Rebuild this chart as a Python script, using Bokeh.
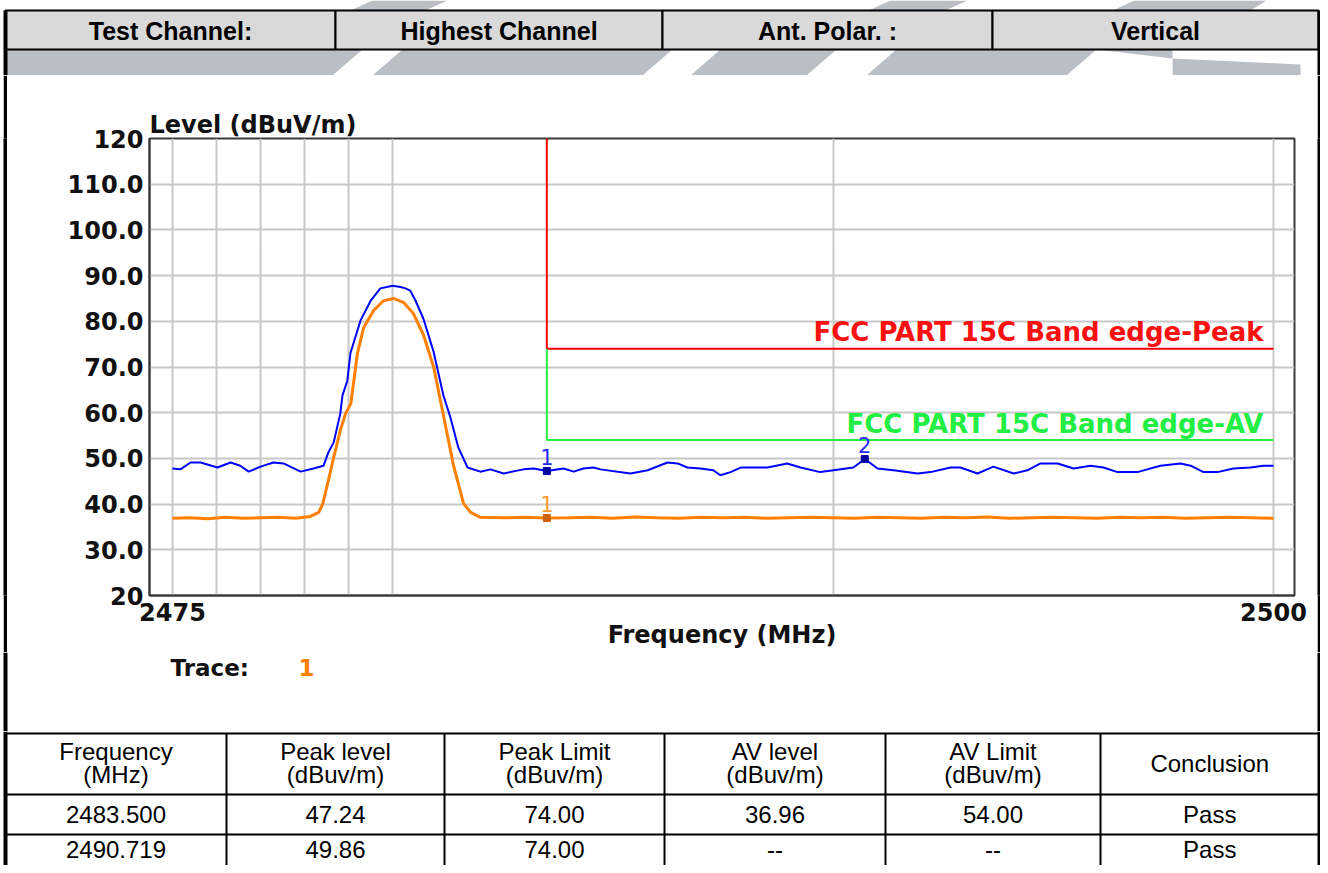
from bokeh.plotting import figure
from bokeh.layouts import column, row
from bokeh.models import Range1d, FixedTicker, Label
from bokeh.core.properties import value
from bokeh.embed import file_html
from bokeh.resources import INLINE

# ---------------- data ----------------
header_labels = ["Test Channel:", "Highest Channel", "Ant. Polar. :", "Vertical"]

freq_pk = [2475.00, 2475.18, 2475.41, 2475.64, 2476.02, 2476.32, 2476.54, 2476.73, 2477.00, 2477.29,
           2477.52, 2477.91, 2478.20, 2478.43, 2478.54, 2478.66, 2478.81, 2478.86, 2478.97, 2479.04,
           2479.27, 2479.50, 2479.72, 2480.00, 2480.18, 2480.29, 2480.40, 2480.52, 2480.70, 2480.93,
           2481.09, 2481.15, 2481.31, 2481.49, 2481.70, 2481.99, 2482.22, 2482.52, 2482.97, 2483.20,
           2483.50, 2483.88, 2484.11, 2484.33, 2484.56, 2484.72, 2485.40, 2485.79, 2486.24, 2486.47,
           2486.69, 2486.99, 2487.28, 2487.44, 2487.67, 2487.90, 2488.51, 2488.96, 2489.26, 2489.71,
           2490.01, 2490.46, 2490.72, 2491.01, 2491.37, 2491.92, 2492.21, 2492.67, 2492.89, 2493.28,
           2493.64, 2494.10, 2494.41, 2494.71, 2495.10, 2495.46, 2495.84, 2496.14, 2496.46, 2496.91,
           2497.43, 2497.89, 2498.12, 2498.41, 2498.73, 2499.09, 2499.48, 2499.77, 2500.00]
level_pk = [47.8, 47.6, 49.1, 49.1, 48.0, 49.1, 48.4, 47.1, 48.2, 49.1,
            48.9, 47.1, 47.8, 48.4, 51.3, 53.5, 59.8, 63.8, 67.0, 73.0,
            80.2, 84.5, 87.2, 87.8, 87.5, 87.2, 86.7, 84.5, 80.5, 73.3,
            66.4, 63.8, 59.0, 52.4, 48.0, 47.1, 47.6, 46.7, 47.6, 47.8,
            47.24, 47.8, 47.1, 47.8, 48.0, 47.6, 46.7, 47.4, 49.1, 48.9,
            48.0, 47.8, 47.4, 46.3, 47.0, 48.0, 48.0, 48.9, 48.0, 47.0,
            47.4, 48.0, 49.86, 47.8, 47.4, 46.7, 47.0, 48.0, 48.0, 46.7,
            48.2, 46.7, 47.4, 48.9, 48.9, 47.8, 48.4, 48.0, 47.0, 47.0,
            48.4, 48.9, 48.4, 47.0, 47.0, 47.8, 48.0, 48.4, 48.4]

freq_av = [2475.0, 2475.4, 2475.8, 2476.2, 2476.6, 2477.0, 2477.4, 2477.8, 2478.13, 2478.32,
           2478.41, 2478.54, 2478.66, 2478.81, 2478.93, 2479.05, 2479.20, 2479.34, 2479.57, 2479.79,
           2480.02, 2480.25, 2480.47, 2480.70, 2480.93, 2481.15, 2481.38, 2481.61, 2481.77, 2481.99,
           2482.5, 2483.0, 2483.5, 2484.0, 2484.5, 2485.0, 2485.5, 2486.0, 2486.5, 2487.0,
           2487.5, 2488.0, 2488.5, 2489.0, 2489.5, 2490.0, 2490.5, 2491.0, 2491.5, 2492.0,
           2492.5, 2493.0, 2493.5, 2494.0, 2494.5, 2495.0, 2495.5, 2496.0, 2496.5, 2497.0,
           2497.5, 2498.0, 2498.5, 2499.0, 2499.5, 2500.0]
level_av = [36.9, 37.0, 36.8, 37.1, 36.9, 37.0, 37.1, 36.9, 37.3, 38.2,
            40.0, 45.2, 50.2, 56.1, 59.8, 62.0, 73.0, 78.6, 82.4, 84.5,
            85.0, 84.1, 81.7, 77.0, 70.0, 59.5, 48.5, 40.1, 38.2, 37.1,
            37.0, 37.1, 36.96, 37.0, 37.1, 36.9, 37.2, 37.0, 36.9, 37.1,
            37.0, 37.1, 36.9, 37.0, 37.1, 37.0, 36.9, 37.1, 37.0, 36.9,
            37.1, 37.0, 37.2, 36.9, 37.0, 37.1, 37.0, 36.9, 37.1, 37.0,
            37.1, 36.9, 37.0, 37.1, 37.0, 36.9]

peak_limit_f = [2483.5, 2483.5, 2500.0]
peak_limit_db = [120.0, 74.0, 74.0]
av_limit_f = [2483.5, 2483.5, 2500.0]
av_limit_db = [74.0, 54.0, 54.0]
peak_limit_name = "FCC PART 15C Band edge-Peak"
av_limit_name = "FCC PART 15C Band edge-AV"

marker_pk_f = [2483.5, 2490.719]
marker_pk_db = [47.24, 49.86]
marker_pk_id = ["1", "2"]
marker_av_f = [2483.5]
marker_av_db = [36.96]
marker_av_id = ["1"]

y_ticks = [20, 30, 40, 50, 60, 70, 80, 90, 100, 110, 120]
y_tick_labels = ["20", "30.0", "40.0", "50.0", "60.0", "70.0", "80.0", "90.0", "100.0", "110.0", "120"]
x_ticks = [2475, 2500]
x_grid_ticks = [2475, 2476, 2477, 2478, 2479, 2480, 2490, 2500]
x_title = "Frequency (MHz)"
y_title = "Level (dBuV/m)"
trace_title = "Trace:"
trace_ids = ["1"]

tbl_head1 = ["Frequency", "Peak level", "Peak Limit", "AV level", "AV Limit"]
tbl_head2 = ["(MHz)", "(dBuv/m)", "(dBuv/m)", "(dBuv/m)", "(dBuv/m)"]
tbl_head_single = ["Conclusion"]
col_freq = ["2483.500", "2490.719"]
col_pk = ["47.24", "49.86"]
col_pk_lim = ["74.00", "74.00"]
col_av = ["36.96", "--"]
col_av_lim = ["54.00", "--"]
col_concl = ["Pass", "Pass"]

# ---------------- helpers ----------------
W = 1320


def blank(width, height, xr, yr):
    f = figure(width=width, height=height, x_range=xr, y_range=yr,
               toolbar_location=None, output_backend="svg", min_border=0,
               x_axis_location=None, y_axis_location=None)
    for g in f.grid:
        g.visible = False
    f.outline_line_color = None
    f.background_fill_color = "white"
    f.border_fill_color = "white"
    return f


def bar_fig(w, h, color):
    f = blank(w, h, Range1d(0, 1), Range1d(0, 1))
    f.background_fill_color = color
    f.border_fill_color = color
    return f


def side_borders(f, y0, y1):
    f.segment(x0=[5], y0=[y0], x1=[5], y1=[y1], line_color="black", line_width=4)
    f.segment(x0=[1318.5], y0=[y0], x1=[1318.5], y1=[y1], line_color="black", line_width=3)


TXT = "#111111"
CH_FONT = "DejaVu Sans"

# ---------------- header strip (page coords 0..75) ----------------
hdr = blank(W, 75, Range1d(0, W), Range1d(75, 0))
wm_gray = "#b9bfc4"
# watermark pieces
hdr.patches(xs=[[350, 425, 447, 372], [868, 945, 967, 890], [1112, 1250, 1266, 1134]],
            ys=[[10, 10, 0, 0], [10, 10, 0, 0], [10, 10, 0, 0]],
            fill_color=wm_gray, line_color=None)
hdr.patches(xs=[[5, 1172, 1172, 5], [1172, 1300, 1300, 1172]],
            ys=[[75, 75, 49, 49], [75, 75, 64, 58]],
            fill_color=wm_gray, line_color=None)
hdr.patches(xs=[[332, 372, 402, 362], [642, 690, 720, 672], [806, 866, 896, 836], [1066, 1172, 1172, 1096]],
            ys=[[75, 75, 49, 49], [75, 75, 49, 49], [75, 75, 49, 49], [75, 75, 58, 49]],
            fill_color="white", line_color=None)
cell_l = [5, 335, 662, 992]
cell_r = [335, 662, 992, 1318]
hdr.quad(left=cell_l, right=cell_r, top=[10] * 4, bottom=[49] * 4,
         fill_color="#d9d9d9", line_color="black", line_width=2)
hdr.text(x=[(a + b) / 2 for a, b in zip(cell_l, cell_r)], y=[30] * 4, text=header_labels,
         text_align="center", text_baseline="middle", text_color="black",
         text_font=value("Liberation Sans"), text_font_style="bold", text_font_size="25px")
side_borders(hdr, 10, 75)

# ---------------- chart (page y 75..652, x 7..1317) ----------------
p = figure(width=1310, height=577,
           x_range=Range1d(2474.478, 2500.477), y_range=Range1d(20, 120),
           toolbar_location=None, output_backend="svg",
           min_border_left=142, min_border_right=23, min_border_top=63, min_border_bottom=57)
p.background_fill_color = "white"
p.border_fill_color = "white"
p.outline_line_color = "#3a3a3a"
p.outline_line_width = 2

p.title.text = y_title
p.title.align = "left"
p.title.standoff = 0
p.title.text_font = CH_FONT
p.title.text_font_style = "bold"
p.title.text_font_size = "24px"
p.title.text_color = TXT

for ax in (p.xaxis[0], p.yaxis[0]):
    ax.axis_line_color = "#3a3a3a"
    ax.axis_line_width = 2
    ax.major_tick_line_color = None
    ax.minor_tick_line_color = None
    ax.major_tick_out = 0
    ax.major_tick_in = 0
    ax.major_label_text_font = CH_FONT
    ax.major_label_text_font_style = "bold"
    ax.major_label_text_font_size = "24px"
    ax.major_label_text_color = TXT

p.xaxis.ticker = FixedTicker(ticks=x_ticks)
p.xaxis.major_label_standoff = 7
p.xaxis.axis_label = x_title
p.xaxis.axis_label_text_font = CH_FONT
p.xaxis.axis_label_text_font_style = "bold"
p.xaxis.axis_label_text_font_size = "24px"
p.xaxis.axis_label_text_color = TXT
p.xaxis.axis_label_standoff = -3

p.yaxis.ticker = FixedTicker(ticks=y_ticks)
p.yaxis.major_label_overrides = {t: s for t, s in zip(y_ticks, y_tick_labels)}
p.yaxis.major_label_standoff = 6

p.xgrid.ticker = FixedTicker(ticks=x_grid_ticks)
p.ygrid.ticker = FixedTicker(ticks=y_ticks)
for g in (p.xgrid[0], p.ygrid[0]):
    g.grid_line_color = "#c8c8c8"
    g.grid_line_width = 2

# limit lines
p.line(peak_limit_f, peak_limit_db, line_color="#ff0000", line_width=2)
p.line(av_limit_f, av_limit_db, line_color="#22ee44", line_width=2)

# traces
p.line(freq_av, level_av, line_color="#ff8000", line_width=3)
p.line(freq_pk, level_pk, line_color="#0000ff", line_width=2)

# markers
p.scatter(marker_pk_f, marker_pk_db, marker="square", size=7, fill_color="#0000a0", line_color="#0000a0")
p.scatter(marker_av_f, marker_av_db, marker="square", size=7, fill_color="#d06000", line_color="#d06000")
p.text(x=marker_pk_f, y=[v + 3.1 for v in marker_pk_db], text=marker_pk_id,
       text_align="center", text_baseline="middle", text_color="#2a2aff",
       text_font=value(CH_FONT), text_font_size="21px")
p.text(x=marker_av_f, y=[v + 3.1 for v in marker_av_db], text=marker_av_id,
       text_align="center", text_baseline="middle", text_color="#ff9a30",
       text_font=value(CH_FONT), text_font_size="21px")

# limit names
p.add_layout(Label(x=peak_limit_f[-1], y=peak_limit_db[-1] + 0.3, text=peak_limit_name,
                   text_align="right", text_baseline="bottom", x_offset=-10,
                   text_color="#ff1010", text_font=CH_FONT, text_font_style="bold",
                   text_font_size="26px"))
p.add_layout(Label(x=av_limit_f[-1], y=av_limit_db[-1] + 0.3, text=av_limit_name,
                   text_align="right", text_baseline="bottom", x_offset=-10,
                   text_color="#22ee44", text_font=CH_FONT, text_font_style="bold",
                   text_font_size="26px"))

chart_row = row(bar_fig(3, 577, "white"), bar_fig(4, 577, "black"), p, bar_fig(3, 577, "black"))

# ---------------- trace legend strip (page y 652..731) ----------------
strip = blank(W, 79, Range1d(0, W), Range1d(731, 652))
strip.text(x=[170], y=[667], text=[trace_title], text_align="left", text_baseline="middle",
           text_color=TXT, text_font=value(CH_FONT), text_font_style="bold", text_font_size="23px")
strip.text(x=[306], y=[667], text=trace_ids, text_align="center", text_baseline="middle",
           text_color="#ff8000", text_font=value(CH_FONT), text_font_style="bold", text_font_size="23px")
side_borders(strip, 652, 731)

# ---------------- result table (page y 731..865) ----------------
tbl = blank(W, 134, Range1d(0, W), Range1d(865, 731))
col_edges = [5, 226, 444, 664, 885, 1100, 1318.5]
col_centers = [(a + b) / 2 for a, b in zip(col_edges[:-1], col_edges[1:])]
row_lines = [733, 794, 834]
tbl.segment(x0=[5] * 3, y0=row_lines, x1=[1318.5] * 3, y1=row_lines, line_color="black", line_width=2)
tbl.segment(x0=col_edges[1:-1], y0=[733] * 5, x1=col_edges[1:-1], y1=[865] * 5,
            line_color="black", line_width=2)
side_borders(tbl, 731, 865)

tfont = dict(text_align="center", text_baseline="middle", text_color="black",
             text_font=value("Liberation Sans"), text_font_size="24px")
tbl.text(x=col_centers[:5], y=[751] * 5, text=tbl_head1, **tfont)
tbl.text(x=col_centers[:5], y=[774] * 5, text=tbl_head2, **tfont)
tbl.text(x=col_centers[5:], y=[763], text=tbl_head_single, **tfont)
for ci, col in enumerate([col_freq, col_pk, col_pk_lim, col_av, col_av_lim, col_concl]):
    tbl.text(x=[col_centers[ci]] * len(col), y=[814, 849], text=col, **tfont)

layout = column(hdr, chart_row, strip, tbl)
open("out.html", "w").write(file_html(layout, INLINE))
